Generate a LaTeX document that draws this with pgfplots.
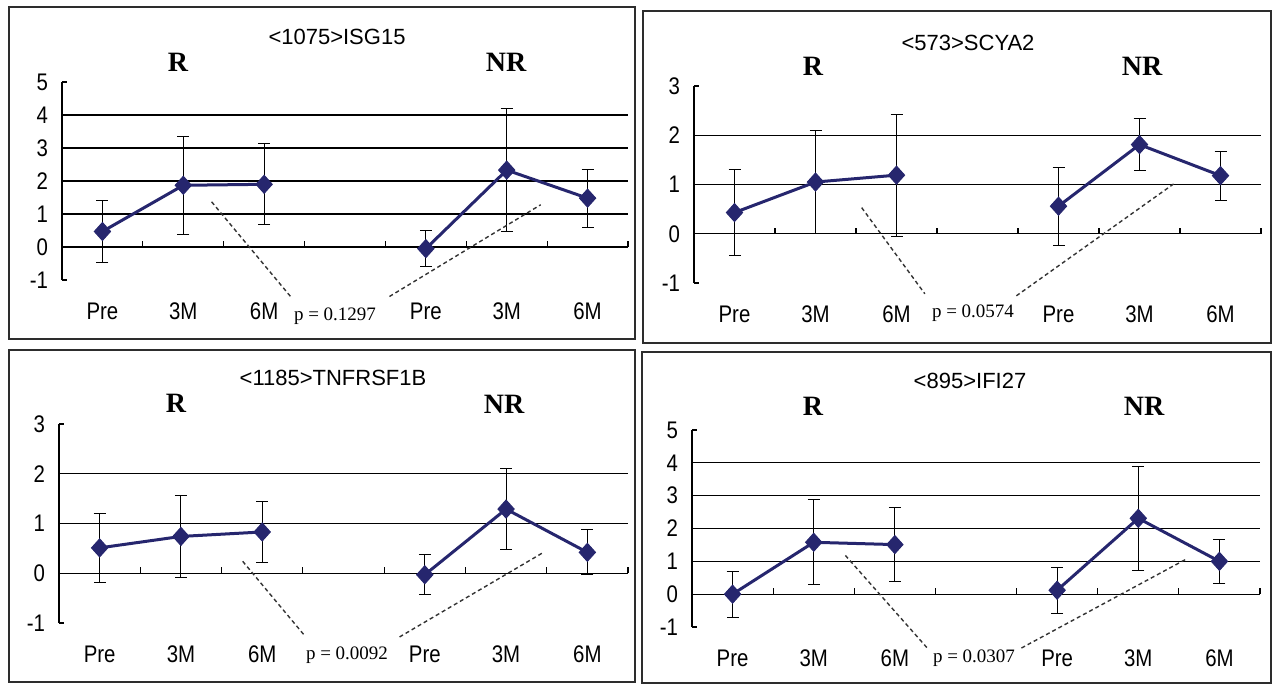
\documentclass[border=0pt]{standalone}
\usepackage{pgfplots}
\pgfplotsset{compat=1.18}
\usepackage{fontspec}
\setmainfont{Liberation Serif}
\setsansfont{Liberation Sans}
\newfontfamily\tickfont[FakeStretch=0.85]{Liberation Sans}
\usepackage{xcolor}
\definecolor{navy}{RGB}{38,38,110}
\definecolor{framec}{RGB}{45,45,45}

\pgfplotsset{
  panel/.style={
    scale only axis,
    xmin=-0.5, xmax=6.5,
    xtick={0,1,2,4,5,6},
    xticklabels={Pre,3M,6M,Pre,3M,6M},
    axis y line*=left,
    axis x line*=bottom,
    axis line style={-},
    x axis line style={draw=none},
    y axis line style={black, line width=0.6pt},
    xtick style={draw=none},
    ytick style={black, line width=0.6pt},
    major tick length=2.5pt,
    tick align=inside,
    extra y tick style={ymajorgrids=true, major grid style={black, line width=0.6pt}, tick style={draw=none}},
    extra y tick labels={},
    tick label style={font=\tickfont\fontsize{12}{14}\selectfont},
    xticklabel style={yshift=-8pt},
    yticklabel style={xshift=-3.5pt},
    /pgf/number format/assume math mode=true,
    clip=false,
  },
  ser/.style={
    navy, line width=1.5pt, mark=diamond*, mark size=4.5pt,
    mark options={xscale=1.2, solid, fill=navy, draw=navy, line width=0.5pt},
    error bars/.cd, y dir=both, y explicit,
    error bar style={black, line width=0.5pt},
    error mark options={rotate=90, mark size=3pt, black, line width=0.5pt},
  },
}
\tikzset{
  lead/.style={black!80, line width=0.7pt, dash pattern=on 2pt off 1.5pt},
  cat/.style={black, line width=0.6pt},
}
\newcommand{\ttl}{\sffamily\fontsize{11}{13}\selectfont}
\newcommand{\grp}{\bfseries\fontsize{14}{16}\selectfont}
\newcommand{\pv}{\fontsize{9.5}{11}\selectfont}
% small upward ticks on the zero line between categories
\newcommand{\catticks}{%
  \draw[cat] (axis cs:0.5,0) -- ([yshift=3pt]axis cs:0.5,0);
  \draw[cat] (axis cs:1.5,0) -- ([yshift=3pt]axis cs:1.5,0);
  \draw[cat] (axis cs:2.5,0) -- ([yshift=3pt]axis cs:2.5,0);
  \draw[cat] (axis cs:3.5,0) -- ([yshift=3pt]axis cs:3.5,0);
  \draw[cat] (axis cs:4.5,0) -- ([yshift=3pt]axis cs:4.5,0);
  \draw[cat] (axis cs:5.5,0) -- ([yshift=3pt]axis cs:5.5,0);
  \draw[cat] (axis cs:6.5,0) -- ([yshift=3pt]axis cs:6.5,0);
}

\begin{document}
\begin{tikzpicture}
\useasboundingbox (0,0) rectangle (636.5pt,-342pt);

% frames
\draw[framec, line width=1pt] (4.5pt,-3.5pt) rectangle (317.5pt,-169.5pt);
\draw[framec, line width=1pt] (321.5pt,-5.5pt) rectangle (635.5pt,-171.5pt);
\draw[framec, line width=1pt] (4.5pt,-175pt) rectangle (317.5pt,-341pt);
\draw[framec, line width=1pt] (321pt,-176pt) rectangle (635.5pt,-341.5pt);

% ---- <1075>ISG15
\begin{axis}[panel, at={(31pt,-140pt)}, anchor=south west,
  width=283pt, height=99pt, ymin=-1, ymax=5, ytick={-1,...,5},
  extra y ticks={0,1,2,3,4}]
\addplot+[ser] table[x=x, y=y, y error=e] {
x y e
0 0.47 0.93
1 1.87 1.48
2 1.90 1.23
};
\addplot+[ser] table[x=x, y=y, y error=e] {
x y e
4 -0.05 0.54
5 2.33 1.86
6 1.48 0.88
};
\catticks
\draw[lead] (axis cs:1.35,1.37) -- (axis cs:2.34,-1.54);
\draw[lead] (axis cs:3.55,-1.5) -- (axis cs:5.42,1.28);
\end{axis}
\node[font=\ttl] at (168.5pt,-18.5pt) {<1075>ISG15};
\node[font=\grp] at (89pt,-31pt) {R};
\node[font=\grp] at (253pt,-31pt) {NR};
\node[font=\pv] at (167.5pt,-158pt) {p = 0.1297};

% ---- <573>SCYA2
\begin{axis}[panel, at={(347pt,-141.5pt)}, anchor=south west,
  width=283.5pt, height=98.5pt, ymin=-1, ymax=3, ytick={-1,...,3},
  extra y ticks={0,1,2}]
\addplot+[ser] table[x=x, y=y, y error=e] {
x y e
0 0.43 0.88
1 1.05 1.05
2 1.19 1.24
};
\addplot+[ser] table[x=x, y=y, y error=e] {
x y e
4 0.56 0.79
5 1.81 0.52
6 1.18 0.50
};
\catticks
\draw[lead] (axis cs:1.57,0.53) -- (axis cs:2.35,-1.22);
\draw[lead] (axis cs:3.48,-1.26) -- (axis cs:5.42,1.01);
\end{axis}
\node[font=\ttl] at (484pt,-21.5pt) {<573>SCYA2};
\node[font=\grp] at (406.5pt,-33pt) {R};
\node[font=\grp] at (571pt,-33pt) {NR};
\node[font=\pv] at (486.5pt,-156.5pt) {p = 0.0574};

% ---- <1185>TNFRSF1B
\begin{axis}[panel, at={(29.5pt,-311.5pt)}, anchor=south west,
  width=284.5pt, height=99.5pt, ymin=-1, ymax=3, ytick={-1,...,3},
  extra y ticks={0,1,2}]
\addplot+[ser] table[x=x, y=y, y error=e] {
x y e
0 0.51 0.69
1 0.74 0.83
2 0.83 0.62
};
\addplot+[ser] table[x=x, y=y, y error=e] {
x y e
4 -0.03 0.40
5 1.29 0.81
6 0.42 0.45
};
\catticks
\draw[lead] (axis cs:1.76,0.24) -- (axis cs:2.51,-1.23);
\draw[lead] (axis cs:3.69,-1.28) -- (axis cs:5.45,0.41);
\end{axis}
\node[font=\ttl] at (166.5pt,-189pt) {<1185>TNFRSF1B};
\node[font=\grp] at (88pt,-201.5pt) {R};
\node[font=\grp] at (252pt,-202pt) {NR};
\node[font=\pv] at (173.5pt,-327.5pt) {p = 0.0092};

% ---- <895>IFI27
\begin{axis}[panel, at={(346pt,-313.5pt)}, anchor=south west,
  width=284pt, height=98.5pt, ymin=-1, ymax=5, ytick={-1,...,5},
  extra y ticks={0,1,2,3,4}]
\addplot+[ser] table[x=x, y=y, y error=e] {
x y e
0 0.00 0.70
1 1.58 1.29
2 1.51 1.12
};
\addplot+[ser] table[x=x, y=y, y error=e] {
x y e
4 0.12 0.70
5 2.31 1.59
6 1.00 0.68
};
\catticks
\draw[lead] (axis cs:1.39,1.18) -- (axis cs:2.41,-1.67);
\draw[lead] (axis cs:3.56,-1.64) -- (axis cs:5.6,1.08);
\end{axis}
\node[font=\ttl] at (485pt,-190.5pt) {<895>IFI27};
\node[font=\grp] at (406.5pt,-203pt) {R};
\node[font=\grp] at (572pt,-203pt) {NR};
\node[font=\pv] at (487pt,-329pt) {p = 0.0307};
\end{tikzpicture}
\end{document}
